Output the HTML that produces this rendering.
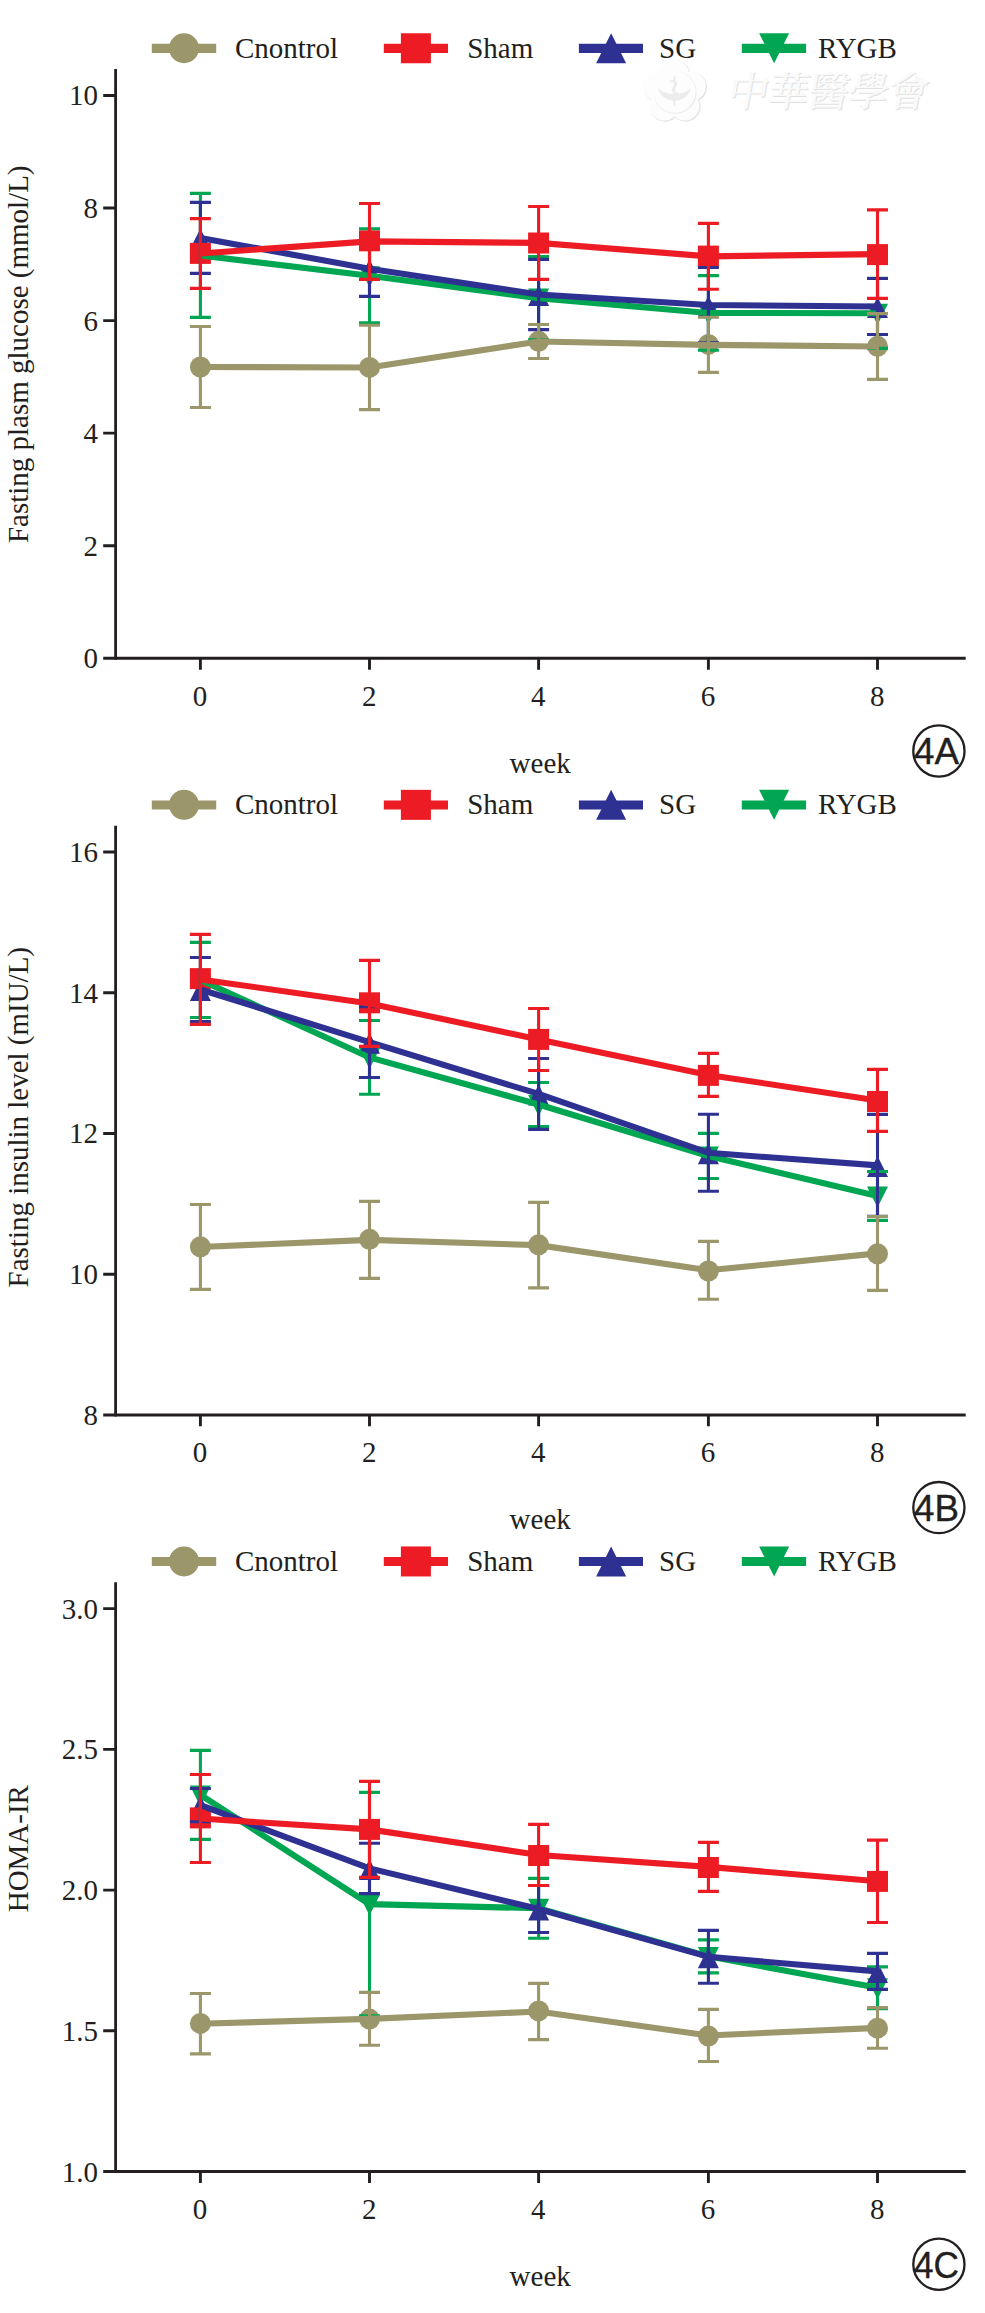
<!DOCTYPE html>
<html lang="en"><head><meta charset="utf-8"><title>Figure 4</title>
<style>html,body{margin:0;padding:0;background:#fff}svg{display:block}text{font-family:"Liberation Serif","Noto Serif CJK SC",serif;font-size:29px;fill:#231f20}</style>
</head><body>
<svg width="985" height="2313" viewBox="0 0 985 2313">
<rect width="985" height="2313" fill="#fff"/>
<g id="watermark">
<circle cx="675.3" cy="75.1" r="15" fill="#e3e3e3"/><circle cx="691.94" cy="87.19" r="15" fill="#e3e3e3"/><circle cx="685.59" cy="106.76" r="15" fill="#e3e3e3"/><circle cx="665.01" cy="106.76" r="15" fill="#e3e3e3"/><circle cx="658.66" cy="87.19" r="15" fill="#e3e3e3"/><circle cx="675.3" cy="92.6" r="19.5" fill="#e3e3e3"/>
<circle cx="674.5" cy="74.3" r="14.6" fill="#fdfdfd"/><circle cx="691.14" cy="86.39" r="14.6" fill="#fdfdfd"/><circle cx="684.79" cy="105.96" r="14.6" fill="#fdfdfd"/><circle cx="664.21" cy="105.96" r="14.6" fill="#fdfdfd"/><circle cx="657.86" cy="86.39" r="14.6" fill="#fdfdfd"/><circle cx="674.5" cy="91.8" r="19.5" fill="#fdfdfd"/>
<circle cx="675.1" cy="92.4" r="21.5" fill="#ececec"/><circle cx="674.5" cy="91.8" r="21" fill="#fdfdfd"/>
<path d="M658 88a17 17 0 0 0 33 0a20 14 0 0 1-33 0z" fill="#ececec"/>
<path d="M674.5 76v30M670 82c4-4 9 2 4.500 5s0 8 4 6" fill="none" stroke="#ebebeb" stroke-width="1.6"/>
<g transform="translate(18.5 0) skewX(-10)">
<text x="727.2" y="107.2" textLength="201" style="font-family:'Noto Serif CJK SC','Noto Sans CJK TC',serif;font-size:41px;font-weight:500;fill:#e0e0e0">中華醫學會</text>
<text x="726" y="106" textLength="201" style="font-family:'Noto Serif CJK SC','Noto Sans CJK TC',serif;font-size:41px;font-weight:500;fill:#fafafa">中華醫學會</text>
</g>
</g>
<g id="panel-4A">
<line x1="151.8" y1="48.35" x2="216.2" y2="48.35" stroke="#9b976b" stroke-width="9.1"/>
<circle cx="184" cy="48.25" r="15" fill="#9b976b"/>
<text x="234.9" y="57.6">Cnontrol</text>
<line x1="383.8" y1="48.35" x2="448" y2="48.35" stroke="#ed1c24" stroke-width="9.1"/>
<rect x="400.9" y="33.25" width="30" height="30" fill="#ed1c24"/>
<text x="467.2" y="57.6">Sham</text>
<line x1="578.9" y1="48.35" x2="643" y2="48.35" stroke="#2e3192" stroke-width="9.1"/>
<polygon points="611.1,33.25 626.1,63.25 596.1,63.25" fill="#2e3192"/>
<text x="659" y="57.6">SG</text>
<line x1="741.8" y1="48.35" x2="806.1" y2="48.35" stroke="#00a651" stroke-width="9.1"/>
<polygon points="759.1,33.25 789.1,33.25 774.1,63.25" fill="#00a651"/>
<text x="817.9" y="57.6">RYGB</text>
<polygon points="189.9,245.9 210.9,245.9 200.4,266.9" fill="#00a651"/>
<polygon points="359,266.25 380,266.25 369.5,287.25" fill="#00a651"/>
<polygon points="528.1,288.6 549.1,288.6 538.6,309.6" fill="#00a651"/>
<polygon points="697.9,303.45 718.9,303.45 708.4,324.45" fill="#00a651"/>
<polygon points="867,303.8 888,303.8 877.5,324.8" fill="#00a651"/>
<polygon points="200.4,228.4 210.9,249.4 189.9,249.4" fill="#2e3192"/>
<polygon points="369.5,259.2 380,280.2 359,280.2" fill="#2e3192"/>
<polygon points="538.6,285 549.1,306 528.1,306" fill="#2e3192"/>
<polygon points="708.4,295.5 718.9,316.5 697.9,316.5" fill="#2e3192"/>
<polygon points="877.5,297 888,318 867,318" fill="#2e3192"/>
<rect x="189.9" y="242.9" width="21" height="21" fill="#ed1c24"/>
<rect x="359" y="230.3" width="21" height="21" fill="#ed1c24"/>
<rect x="528.1" y="232.5" width="21" height="21" fill="#ed1c24"/>
<rect x="697.9" y="245.6" width="21" height="21" fill="#ed1c24"/>
<rect x="867" y="244.1" width="21" height="21" fill="#ed1c24"/>
<circle cx="200.4" cy="367" r="10.5" fill="#9b976b"/>
<circle cx="369.5" cy="367.4" r="10.5" fill="#9b976b"/>
<circle cx="538.6" cy="341.3" r="10.5" fill="#9b976b"/>
<circle cx="708.4" cy="344.4" r="10.5" fill="#9b976b"/>
<circle cx="877.5" cy="346.3" r="10.5" fill="#9b976b"/>
<path d="M200.4 193.4V317.4M189.9 193.4H210.9M189.9 317.4H210.9M369.5 228.8V322.7M359 228.8H380M359 322.7H380M538.6 256.5V339.7M528.1 256.5H549.1M528.1 339.7H549.1M708.4 275.6V350.3M697.9 275.6H718.9M697.9 350.3H718.9M877.5 278.2V348.4M867 278.2H888M867 348.4H888" stroke="#00a651" stroke-width="3.1" fill="none"/>
<polyline points="200.4,255.4 369.5,275.75 538.6,298.1 708.4,312.95 877.5,313.3" stroke="#00a651" stroke-width="6.1" fill="none" stroke-linejoin="miter"/>
<path d="M200.4 202.4V273.4M189.9 202.4H210.9M189.9 273.4H210.9M369.5 241V296.4M359 241H380M359 296.4H380M538.6 259.35V329.65M528.1 259.35H549.1M528.1 329.65H549.1M708.4 267.55V342.45M697.9 267.55H718.9M697.9 342.45H718.9M877.5 278.5V334.5M867 278.5H888M867 334.5H888" stroke="#2e3192" stroke-width="3.1" fill="none"/>
<polyline points="200.4,237.9 369.5,268.7 538.6,294.5 708.4,305 877.5,306.5" stroke="#2e3192" stroke-width="6.1" fill="none" stroke-linejoin="miter"/>
<path d="M200.4 218.6V288.4M189.9 218.6H210.9M189.9 288.4H210.9M369.5 203.45V279.35M359 203.45H380M359 279.35H380M538.6 206.45V279.35M528.1 206.45H549.1M528.1 279.35H549.1M708.4 223.4V289.3M697.9 223.4H718.9M697.9 289.3H718.9M877.5 209.9V298.4M867 209.9H888M867 298.4H888" stroke="#ed1c24" stroke-width="3.1" fill="none"/>
<polyline points="200.4,253.5 369.5,241.4 538.6,242.9 708.4,256.35 877.5,254.15" stroke="#ed1c24" stroke-width="6.1" fill="none" stroke-linejoin="miter"/>
<path d="M200.4 326.5V407.5M189.9 326.5H210.9M189.9 407.5H210.9M369.5 325.3V409.6M359 325.3H380M359 409.6H380M538.6 324.5V358.5M528.1 324.5H549.1M528.1 358.5H549.1M708.4 317.3V372.4M697.9 317.3H718.9M697.9 372.4H718.9M877.5 313.6V379.4M867 313.6H888M867 379.4H888" stroke="#9b976b" stroke-width="3.1" fill="none"/>
<polyline points="200.4,367 369.5,367.45 538.6,341.5 708.4,344.85 877.5,346.5" stroke="#9b976b" stroke-width="6.1" fill="none" stroke-linejoin="miter"/>
<g stroke="#231f20" fill="none">
<line x1="115.6" y1="69.1" x2="115.6" y2="659.8" stroke-width="2.8"/>
<line x1="103.2" y1="658.3" x2="965.7" y2="658.3" stroke-width="3"/>
<path d="M103.2 95.45H115M103.2 208.02H115M103.2 320.59H115M103.2 433.16H115M103.2 545.73H115M200.4 658.3V669.7M369.5 658.3V669.7M538.6 658.3V669.7M708.4 658.3V669.7M877.5 658.3V669.7" stroke-width="2.9"/>
</g>
<text x="98.1" y="105.45" text-anchor="end">10</text>
<text x="98.1" y="218.02" text-anchor="end">8</text>
<text x="98.1" y="330.59" text-anchor="end">6</text>
<text x="98.1" y="443.16" text-anchor="end">4</text>
<text x="98.1" y="555.73" text-anchor="end">2</text>
<text x="98.1" y="668.3" text-anchor="end">0</text>
<text x="200.1" y="705.8" text-anchor="middle">0</text>
<text x="369.2" y="705.8" text-anchor="middle">2</text>
<text x="538.3" y="705.8" text-anchor="middle">4</text>
<text x="708.1" y="705.8" text-anchor="middle">6</text>
<text x="877.2" y="705.8" text-anchor="middle">8</text>
<text x="540.2" y="772.6" text-anchor="middle">week</text>
<text transform="translate(27.8 543.1) rotate(-90)" textLength="377.6" lengthAdjust="spacingAndGlyphs">Fasting plasm glucose (mmol/L)</text>
<circle cx="938.9" cy="751" r="25.6" fill="none" stroke="#231f20" stroke-width="2.3"/>
<text x="914" y="764.4" style="font-family:'Liberation Sans',sans-serif;font-size:37px;stroke:#231f20;stroke-width:0.35px" textLength="45" lengthAdjust="spacingAndGlyphs">4A</text>
</g>
<g id="panel-4B">
<line x1="151.8" y1="804.95" x2="216.2" y2="804.95" stroke="#9b976b" stroke-width="9.1"/>
<circle cx="184" cy="804.85" r="15" fill="#9b976b"/>
<text x="234.9" y="814.2">Cnontrol</text>
<line x1="383.8" y1="804.95" x2="448" y2="804.95" stroke="#ed1c24" stroke-width="9.1"/>
<rect x="400.9" y="789.85" width="30" height="30" fill="#ed1c24"/>
<text x="467.2" y="814.2">Sham</text>
<line x1="578.9" y1="804.95" x2="643" y2="804.95" stroke="#2e3192" stroke-width="9.1"/>
<polygon points="611.1,789.85 626.1,819.85 596.1,819.85" fill="#2e3192"/>
<text x="659" y="814.2">SG</text>
<line x1="741.8" y1="804.95" x2="806.1" y2="804.95" stroke="#00a651" stroke-width="9.1"/>
<polygon points="759.1,789.85 789.1,789.85 774.1,819.85" fill="#00a651"/>
<text x="817.9" y="814.2">RYGB</text>
<polygon points="189.9,970.45 210.9,970.45 200.4,991.45" fill="#00a651"/>
<polygon points="359,1047.9 380,1047.9 369.5,1068.9" fill="#00a651"/>
<polygon points="528.1,1095 549.1,1095 538.6,1116" fill="#00a651"/>
<polygon points="697.9,1146.45 718.9,1146.45 708.4,1167.45" fill="#00a651"/>
<polygon points="867,1186.45 888,1186.45 877.5,1207.45" fill="#00a651"/>
<polygon points="200.4,980 210.9,1001 189.9,1001" fill="#2e3192"/>
<polygon points="369.5,1032.65 380,1053.65 359,1053.65" fill="#2e3192"/>
<polygon points="538.6,1084.45 549.1,1105.45 528.1,1105.45" fill="#2e3192"/>
<polygon points="708.4,1143.3 718.9,1164.3 697.9,1164.3" fill="#2e3192"/>
<polygon points="877.5,1155.9 888,1176.9 867,1176.9" fill="#2e3192"/>
<rect x="189.9" y="968.1" width="21" height="21" fill="#ed1c24"/>
<rect x="359" y="992.3" width="21" height="21" fill="#ed1c24"/>
<rect x="528.1" y="1028.9" width="21" height="21" fill="#ed1c24"/>
<rect x="697.9" y="1064.9" width="21" height="21" fill="#ed1c24"/>
<rect x="867" y="1091" width="21" height="21" fill="#ed1c24"/>
<circle cx="200.4" cy="1246.8" r="10.5" fill="#9b976b"/>
<circle cx="369.5" cy="1239.3" r="10.5" fill="#9b976b"/>
<circle cx="538.6" cy="1244.8" r="10.5" fill="#9b976b"/>
<circle cx="708.4" cy="1271" r="10.5" fill="#9b976b"/>
<circle cx="877.5" cy="1253.8" r="10.5" fill="#9b976b"/>
<path d="M200.4 942.4V1017.5M189.9 942.4H210.9M189.9 1017.5H210.9M369.5 1020.5V1094.3M359 1020.5H380M359 1094.3H380M538.6 1082.5V1126.5M528.1 1082.5H549.1M528.1 1126.5H549.1M708.4 1133.4V1178.5M697.9 1133.4H718.9M697.9 1178.5H718.9M877.5 1171.5V1220.4M867 1171.5H888M867 1220.4H888" stroke="#00a651" stroke-width="3.1" fill="none"/>
<polyline points="200.4,979.95 369.5,1057.4 538.6,1104.5 708.4,1155.95 877.5,1195.95" stroke="#00a651" stroke-width="6.1" fill="none" stroke-linejoin="miter"/>
<path d="M200.4 957.5V1021.5M189.9 957.5H210.9M189.9 1021.5H210.9M369.5 1006.8V1077.5M359 1006.8H380M359 1077.5H380M538.6 1058.5V1129.4M528.1 1058.5H549.1M528.1 1129.4H549.1M708.4 1114.3V1191.3M697.9 1114.3H718.9M697.9 1191.3H718.9M877.5 1114.4V1216.4M867 1114.4H888M867 1216.4H888" stroke="#2e3192" stroke-width="3.1" fill="none"/>
<polyline points="200.4,989.5 369.5,1042.15 538.6,1093.95 708.4,1152.8 877.5,1165.4" stroke="#2e3192" stroke-width="6.1" fill="none" stroke-linejoin="miter"/>
<path d="M200.4 934.4V1024.4M189.9 934.4H210.9M189.9 1024.4H210.9M369.5 960.4V1046.4M359 960.4H380M359 1046.4H380M538.6 1008.5V1070.5M528.1 1008.5H549.1M528.1 1070.5H549.1M708.4 1053.4V1096.4M697.9 1053.4H718.9M697.9 1096.4H718.9M877.5 1069.4V1131.4M867 1069.4H888M867 1131.4H888" stroke="#ed1c24" stroke-width="3.1" fill="none"/>
<polyline points="200.4,979.4 369.5,1003.4 538.6,1039.5 708.4,1074.9 877.5,1100.4" stroke="#ed1c24" stroke-width="6.1" fill="none" stroke-linejoin="miter"/>
<path d="M200.4 1204.5V1289.4M189.9 1204.5H210.9M189.9 1289.4H210.9M369.5 1201.4V1278.4M359 1201.4H380M359 1278.4H380M538.6 1202.4V1287.9M528.1 1202.4H549.1M528.1 1287.9H549.1M708.4 1241.4V1299.2M697.9 1241.4H718.9M697.9 1299.2H718.9M877.5 1216.45V1290.35M867 1216.45H888M867 1290.35H888" stroke="#9b976b" stroke-width="3.1" fill="none"/>
<polyline points="200.4,1246.95 369.5,1239.9 538.6,1245.15 708.4,1270.3 877.5,1253.4" stroke="#9b976b" stroke-width="6.1" fill="none" stroke-linejoin="miter"/>
<g stroke="#231f20" fill="none">
<line x1="115.6" y1="825.7" x2="115.6" y2="1416.4" stroke-width="2.8"/>
<line x1="103.2" y1="1414.9" x2="965.7" y2="1414.9" stroke-width="3"/>
<path d="M103.2 852.05H115M103.2 992.76H115M103.2 1133.48H115M103.2 1274.19H115M200.4 1414.9V1426.3M369.5 1414.9V1426.3M538.6 1414.9V1426.3M708.4 1414.9V1426.3M877.5 1414.9V1426.3" stroke-width="2.9"/>
</g>
<text x="98.1" y="862.05" text-anchor="end">16</text>
<text x="98.1" y="1002.76" text-anchor="end">14</text>
<text x="98.1" y="1143.48" text-anchor="end">12</text>
<text x="98.1" y="1284.19" text-anchor="end">10</text>
<text x="98.1" y="1424.9" text-anchor="end">8</text>
<text x="200.1" y="1462.4" text-anchor="middle">0</text>
<text x="369.2" y="1462.4" text-anchor="middle">2</text>
<text x="538.3" y="1462.4" text-anchor="middle">4</text>
<text x="708.1" y="1462.4" text-anchor="middle">6</text>
<text x="877.2" y="1462.4" text-anchor="middle">8</text>
<text x="540.2" y="1529.2" text-anchor="middle">week</text>
<text transform="translate(27.8 1287.4) rotate(-90)" textLength="340.4" lengthAdjust="spacingAndGlyphs">Fasting insulin level (mIU/L)</text>
<circle cx="938.9" cy="1507.6" r="25.6" fill="none" stroke="#231f20" stroke-width="2.3"/>
<text x="914" y="1521" style="font-family:'Liberation Sans',sans-serif;font-size:37px;stroke:#231f20;stroke-width:0.35px" textLength="45" lengthAdjust="spacingAndGlyphs">4B</text>
</g>
<g id="panel-4C">
<line x1="151.8" y1="1561.55" x2="216.2" y2="1561.55" stroke="#9b976b" stroke-width="9.1"/>
<circle cx="184" cy="1561.45" r="15" fill="#9b976b"/>
<text x="234.9" y="1570.8">Cnontrol</text>
<line x1="383.8" y1="1561.55" x2="448" y2="1561.55" stroke="#ed1c24" stroke-width="9.1"/>
<rect x="400.9" y="1546.45" width="30" height="30" fill="#ed1c24"/>
<text x="467.2" y="1570.8">Sham</text>
<line x1="578.9" y1="1561.55" x2="643" y2="1561.55" stroke="#2e3192" stroke-width="9.1"/>
<polygon points="611.1,1546.45 626.1,1576.45 596.1,1576.45" fill="#2e3192"/>
<text x="659" y="1570.8">SG</text>
<line x1="741.8" y1="1561.55" x2="806.1" y2="1561.55" stroke="#00a651" stroke-width="9.1"/>
<polygon points="759.1,1546.45 789.1,1546.45 774.1,1576.45" fill="#00a651"/>
<text x="817.9" y="1570.8">RYGB</text>
<polygon points="189.9,1785.4 210.9,1785.4 200.4,1806.4" fill="#00a651"/>
<polygon points="359,1894.6 380,1894.6 369.5,1915.6" fill="#00a651"/>
<polygon points="528.1,1898.8 549.1,1898.8 538.6,1919.8" fill="#00a651"/>
<polygon points="697.9,1946.9 718.9,1946.9 708.4,1967.9" fill="#00a651"/>
<polygon points="867,1978.3 888,1978.3 877.5,1999.3" fill="#00a651"/>
<polygon points="200.4,1795.6 210.9,1816.6 189.9,1816.6" fill="#2e3192"/>
<polygon points="369.5,1858.95 380,1879.95 359,1879.95" fill="#2e3192"/>
<polygon points="538.6,1899.5 549.1,1920.5 528.1,1920.5" fill="#2e3192"/>
<polygon points="708.4,1947.35 718.9,1968.35 697.9,1968.35" fill="#2e3192"/>
<polygon points="877.5,1961.9 888,1982.9 867,1982.9" fill="#2e3192"/>
<rect x="189.9" y="1807.4" width="21" height="21" fill="#ed1c24"/>
<rect x="359" y="1818.9" width="21" height="21" fill="#ed1c24"/>
<rect x="528.1" y="1845" width="21" height="21" fill="#ed1c24"/>
<rect x="697.9" y="1857" width="21" height="21" fill="#ed1c24"/>
<rect x="867" y="1870.9" width="21" height="21" fill="#ed1c24"/>
<circle cx="200.4" cy="2023.4" r="10.5" fill="#9b976b"/>
<circle cx="369.5" cy="2019.1" r="10.5" fill="#9b976b"/>
<circle cx="538.6" cy="2010.9" r="10.5" fill="#9b976b"/>
<circle cx="708.4" cy="2036.1" r="10.5" fill="#9b976b"/>
<circle cx="877.5" cy="2028.2" r="10.5" fill="#9b976b"/>
<path d="M200.4 1750.4V1839.4M189.9 1750.4H210.9M189.9 1839.4H210.9M369.5 1792.4V2015.8M359 1792.4H380M359 2015.8H380M538.6 1878.4V1938.2M528.1 1878.4H549.1M528.1 1938.2H549.1M708.4 1939.9V1972.9M697.9 1939.9H718.9M697.9 1972.9H718.9M877.5 1966.9V2008.7M867 1966.9H888M867 2008.7H888" stroke="#00a651" stroke-width="3.1" fill="none"/>
<polyline points="200.4,1794.9 369.5,1904.1 538.6,1908.3 708.4,1956.4 877.5,1987.8" stroke="#00a651" stroke-width="6.1" fill="none" stroke-linejoin="miter"/>
<path d="M200.4 1788.5V1821.7M189.9 1788.5H210.9M189.9 1821.7H210.9M369.5 1843.3V1893.6M359 1843.3H380M359 1893.6H380M538.6 1885.55V1932.45M528.1 1885.55H549.1M528.1 1932.45H549.1M708.4 1930.4V1983.3M697.9 1930.4H718.9M697.9 1983.3H718.9M877.5 1953.4V1989.4M867 1953.4H888M867 1989.4H888" stroke="#2e3192" stroke-width="3.1" fill="none"/>
<polyline points="200.4,1805.1 369.5,1868.45 538.6,1909 708.4,1956.85 877.5,1971.4" stroke="#2e3192" stroke-width="6.1" fill="none" stroke-linejoin="miter"/>
<path d="M200.4 1774.5V1862.5M189.9 1774.5H210.9M189.9 1862.5H210.9M369.5 1781.4V1877.4M359 1781.4H380M359 1877.4H380M538.6 1824.4V1885.5M528.1 1824.4H549.1M528.1 1885.5H549.1M708.4 1842.4V1891.4M697.9 1842.4H718.9M697.9 1891.4H718.9M877.5 1840.1V1922.5M867 1840.1H888M867 1922.5H888" stroke="#ed1c24" stroke-width="3.1" fill="none"/>
<polyline points="200.4,1818.5 369.5,1829.4 538.6,1854.95 708.4,1866.9 877.5,1881.3" stroke="#ed1c24" stroke-width="6.1" fill="none" stroke-linejoin="miter"/>
<path d="M200.4 1993.5V2053.9M189.9 1993.5H210.9M189.9 2053.9H210.9M369.5 1992.4V2045.3M359 1992.4H380M359 2045.3H380M538.6 1983.4V2039.6M528.1 1983.4H549.1M528.1 2039.6H549.1M708.4 2009.4V2061.5M697.9 2009.4H718.9M697.9 2061.5H718.9M877.5 2007.6V2048.2M867 2007.6H888M867 2048.2H888" stroke="#9b976b" stroke-width="3.1" fill="none"/>
<polyline points="200.4,2023.7 369.5,2018.85 538.6,2011.5 708.4,2035.45 877.5,2027.9" stroke="#9b976b" stroke-width="6.1" fill="none" stroke-linejoin="miter"/>
<g stroke="#231f20" fill="none">
<line x1="115.6" y1="1582.3" x2="115.6" y2="2173" stroke-width="2.8"/>
<line x1="103.2" y1="2171.5" x2="965.7" y2="2171.5" stroke-width="3"/>
<path d="M103.2 1608.65H115M103.2 1749.36H115M103.2 1890.08H115M103.2 2030.79H115M200.4 2171.5V2182.9M369.5 2171.5V2182.9M538.6 2171.5V2182.9M708.4 2171.5V2182.9M877.5 2171.5V2182.9" stroke-width="2.9"/>
</g>
<text x="98.1" y="1618.65" text-anchor="end">3.0</text>
<text x="98.1" y="1759.36" text-anchor="end">2.5</text>
<text x="98.1" y="1900.08" text-anchor="end">2.0</text>
<text x="98.1" y="2040.79" text-anchor="end">1.5</text>
<text x="98.1" y="2181.5" text-anchor="end">1.0</text>
<text x="200.1" y="2219" text-anchor="middle">0</text>
<text x="369.2" y="2219" text-anchor="middle">2</text>
<text x="538.3" y="2219" text-anchor="middle">4</text>
<text x="708.1" y="2219" text-anchor="middle">6</text>
<text x="877.2" y="2219" text-anchor="middle">8</text>
<text x="540.2" y="2285.8" text-anchor="middle">week</text>
<text transform="translate(27.8 1912.3) rotate(-90)" textLength="127.25" lengthAdjust="spacingAndGlyphs">HOMA-IR</text>
<circle cx="938.9" cy="2264.2" r="25.6" fill="none" stroke="#231f20" stroke-width="2.3"/>
<text x="914" y="2277.6" style="font-family:'Liberation Sans',sans-serif;font-size:37px;stroke:#231f20;stroke-width:0.35px" textLength="45" lengthAdjust="spacingAndGlyphs">4C</text>
</g>
</svg></body></html>
